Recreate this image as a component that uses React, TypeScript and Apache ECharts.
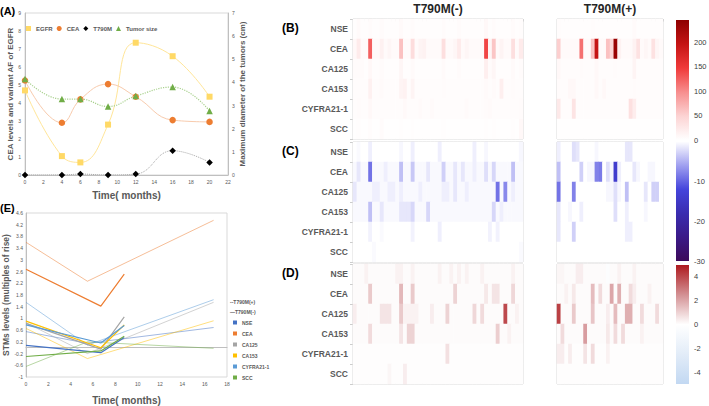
import React, { useEffect, useRef } from "react";
import * as echarts from "echarts";

const FONT = 'Arial, "Liberation Sans", Helvetica, sans-serif';
const GREY_TEXT = "#595959";

// ---------------- Panel A ----------------
const A_MONTHS = [0, 4, 6, 9, 12, 16, 20];
const A_EGFR = [4.7, 1.05, 0.7, 2.8, 7.35, 6.6, 4.35];
const A_CEA = [5.25, 2.9, 4.2, 5.05, 4.35, 3.05, 2.95];
const A_T790M = [0, 0, 0.05, 0, 0.05, 1.35, 0.7];
const A_TUMOR = [4.15, 3.28, 3.28, 2.96, 3.41, 3.8, 2.77];

// ---------------- Panel E ----------------
const E_MONTHS_NEG = [0, 6.7, 8.8];
const E_MONTHS_POS = [0, 5.5, 16.8];
const MARKERS = ["NSE", "CEA", "CA125", "CA153", "CYFRA21-1", "SCC"];
const MARKER_COLORS = ["#4472C4", "#ED7D31", "#A5A5A5", "#FFC000", "#5B9BD5", "#70AD47"];
const E_NSE_NEG = [0.08, -0.17, 0.35];
const E_CEA_NEG = [2.68, 1.42, 2.51];
const E_CA125_NEG = [0.83, -0.05, 1.05];
const E_CA153_NEG = [0.91, 0.0, 0.78];
const E_CYFRA_NEG = [0.78, 0.16, 0.76];
const E_SCC_NEG = [-0.3, -0.11, 0.39];
const E_NSE_POS = [0.55, 0.15, 0.69];
const E_CEA_POS = [3.6, 2.27, 4.35];
const E_CA125_POS = [0.85, -0.2, 1.55];
const E_CA153_POS = [0.66, -0.37, 0.92];
const E_CYFRA_POS = [1.55, 0.09, 1.64];
const E_SCC_POS = [-0.64, 0.2, -0.02];

// ---------------- Heatmap B (absolute change) ----------------
const B_NEG_NSE = [2,6,2,2,5,2,2,4,2,2, 2,2,6,2,2,5,2,2,2,2, 2,2,2,5,2,2,2,5,2,2, 2,2,2,2,8,2,4,2,2,2, 2,5,2,3];
const B_NEG_CEA = [8,22,6,6,125,6,6,16,6,10, 6,6,62,6,6,38,6,12,14,6, 6,6,6,36,6,6,10,22,6,10, 6,6,6,6,140,10,58,6,12,6, 6,36,6,22];
const B_NEG_CA125 = [4,4,4,2,8,2,2,4,2,2, 2,2,10,2,2,6,2,2,2,2, 2,2,2,6,2,2,2,4,2,2, 2,2,2,2,18,4,10,2,2,2, 2,6,2,4];
const B_NEG_CA153 = [3,3,3,3,16,3,3,6,3,3, 3,3,12,14,3,12,3,3,3,3, 3,3,3,4,3,3,3,3,3,3, 3,3,3,3,6,3,6,3,18,3, 3,4,3,3];
const B_NEG_CYFRA = [3,5,3,3,8,3,3,3,3,3, 3,3,3,7,3,3,3,6,3,3, 6,3,3,3,3,3,3,3,3,6, 3,3,3,3,5,6,3,3,3,3, 3,3,3,4];
const B_NEG_SCC = [1,2,1,1,3,1,1,4,1,1, 1,1,2,1,1,2,1,1,1,1, 1,1,1,2,1,1,1,1,1,1, 1,1,1,1,2,1,2,1,1,1, 1,2,1,8];
const B_POS_NSE = [3,2,2,2,2,2,2,2,2,3, 2,2,2,2,2,2,2,2,2,2, 6,2,2,2,2,2,2,2];
const B_POS_CEA = [52,6,6,6,6,6,115,6,6,60, 195,6,6,62,45,235,15,6,6,6, 14,32,6,10,6,32,10,6];
const B_POS_CA125 = [8,3,3,3,3,3,4,3,3,3, 8,3,3,3,3,5,3,3,3,3, 12,3,3,3,3,3,3,3];
const B_POS_CA153 = [4,3,3,8,8,3,3,3,3,3, 8,3,8,3,3,3,3,3,3,3, 4,3,3,3,3,3,3,3];
const B_POS_CYFRA = [25,3,3,3,30,3,3,3,3,3, 3,3,3,3,3,3,3,3,3,35, 20,3,3,3,3,3,3,3];
const B_POS_SCC = [1,1,1,1,1,1,1,1,1,1, 1,1,1,1,1,1,1,1,1,1, 1,1,1,1,1,1,1,1];

// ---------------- Heatmap C (decrease) ----------------
const C_NEG_NSE = [0,-0.3,0,0,-1,0,0,0,0,0, 0,0,-0.5,0,0,-1,0,0,0,0, 0,0,-1,0,0,0,0,0,0,0, 0,-1,0,0,-0.5,0,0,0,0,0, 0,0,0,-0.5];
const C_NEG_CEA = [-0.4,-1.5,-0.4,-0.4,-9,-0.4,-0.4,-0.4,-1,-0.4, -0.4,-0.4,-4,-0.4,-0.4,-3.5,-0.4,-0.4,-0.4,-1.5, -0.4,-0.4,-0.4,-3,-0.4,-0.4,-1.5,-0.4,-1.5,-0.4, -0.4,-1,-0.4,-0.4,-2,-0.4,-2.5,-0.4,-0.4,-0.4, -0.4,-4,-0.4,-0.4];
const C_NEG_CA125 = [-1.5,-0.4,-0.4,-0.4,-0.4,-1,-1,-0.4,-0.4,-1, -1,-0.4,-1,-0.4,-0.4,-0.4,-0.4,-1,-0.4,-0.4, -0.4,-0.4,-0.4,-1,-1,-0.4,-1.5,-0.4,-0.4,-1, -0.4,-0.4,-0.4,-0.4,-0.4,-0.4,-0.4,-9,-0.4,-7.5, -0.4,-1,-0.4,-0.4];
const C_NEG_CA153 = [-0.4,-0.4,-0.4,-0.4,-4,-0.4,-0.4,-1.5,-0.4,-0.4, -0.4,-0.4,-1.5,-1.5,-1.5,-2.5,-0.4,-0.4,-0.4,-2.5, -0.4,-0.4,-0.4,-0.4,-0.4,-0.4,-0.4,-0.4,-0.4,-0.4, -0.4,-0.4,-0.4,-0.4,-0.4,-0.4,-2.5,-0.4,-1,-0.4, -0.4,-0.4,-0.4,-0.4];
const C_NEG_CYFRA = [0,0,0,0,-0.8,0,0,-0.3,0,0, 0,0,0,0,0,-0.8,0,0,0,0, 0,0,-1,0,0,0,0,0,0,0, 0,0,0,0,0,-0.8,0,-0.8,0,0, 0,0,0,0];
const C_NEG_SCC = [0,0,0,0,0,-0.3,0,0,0,0, 0,0,0,0,0,0,0,0,0,0, 0,0,0,0,0,0,0,0,0,0, 0,0,0,0,0,0,0,0,0,0, 0,0,0,-0.3];
const C_POS_NSE = [-1,0,0,0,-2,-1.5,0,0,0,0, -0.5,0,0,0,0,0,0,0,-1.5,-1.5, 0,0,0,0,0,0,0,0];
const C_POS_CEA = [-4,0,0,0,0,0,-3,0,-0.5,-0.5, -8,-8.5,0,-2,-0.5,-14,-1,0,0,0, -1.5,-0.5,0,0,-0.5,-0.5,0,0];
const C_POS_CA125 = [-9,0,0,0,-8,0,0,0,0,0, 0,0,0,-0.5,-0.5,-2,-0.5,0,-4,0, 0,0,0,-1.5,0,-3,-3,0];
const C_POS_CA153 = [-1.5,0,0,-0.5,0,0,-1,0,0,0, 0,0,0,0,0,-2,0,0,-1,0, 0,0,0,-0.5,0,0,0,0];
const C_POS_CYFRA = [-1.5,0,0,0,-3,0,0,0,0,0, 0,0,0,0,0,0,0,0,-1,-1, 0,0,0,0,0,0,0,0];
const C_POS_SCC = [0,0,0,0,0,0,0,0,0,0, 0,0,0,0,0,0,0,0,0,0, 0,0,0,0,0,0,0,0];

// ---------------- Heatmap D (relative change) ----------------
const D_NEG_NSE = [0.1,0.1,0.1,0.3,0.1,0.1,0.1,0.1,0.1,0.1, 0.1,0.3,0.3,0.1,0.1,0.3,0.1,0.1,0.1,0.1, 0.1,0.1,0.3,0.1,0.1,0.3,0.1,0.3,0.1,0.3, 0.1,0.1,0.1,0.3,0.1,0.1,0.1,0.1,0.1,0.1, 0.1,0.3,0.1,0.1];
const D_NEG_CEA = [0.1,0.1,0.1,0.1,1.2,0.1,0.1,0.1,0.1,0.1, 0.1,0.1,1.6,0.1,0.1,1.2,0.1,0.1,0.1,0.1, 0.1,0.1,0.1,0.1,0.1,0.1,1.0,0.1,0.1,0.1, 0.1,0.1,0.1,0.1,0.5,0.1,0.6,0.6,0.1,0.1, 0.1,0.9,0.1,0.1];
const D_NEG_CA125 = [0.4,0.1,0.1,0.1,0.1,0.1,0.1,0.6,0.6,0.6, 0.1,0.1,1.2,0.3,0.3,0.3,0.3,0.1,0.1,0.1, 0.4,0.1,0.1,0.1,1.0,0.1,0.1,0.1,0.1,0.1, 0.1,0.9,0.1,0.8,0.1,0.1,0.1,0.1,0.1,4.0, 0.1,0.1,0.3,0.1];
const D_NEG_CA153 = [0.1,0.1,0.1,0.1,0.8,0.1,0.1,0.1,0.1,0.1, 0.1,0.1,0.6,0.1,1.0,1.0,0.1,0.1,0.1,0.1, 0.1,0.1,0.1,0.1,0.1,0.1,0.1,0.1,0.1,0.1, 0.1,0.1,0.1,0.1,0.1,0.1,0.1,1.1,0.1,0.1, 0.3,0.1,0.1,0.1];
const D_NEG_CYFRA = [0.05,0.05,0.05,0.05,0.05,0.05,0.05,0.05,0.05,0.05, 0.05,0.05,0.05,0.05,0.05,0.05,0.05,0.05,0.05,0.05, 0.05,0.05,0.05,0.05,0.7,0.05,0.05,0.05,0.05,0.05, 0.05,0.05,0.05,0.05,0.05,0.05,0.05,0.05,0.05,0.05, 0.05,0.05,0.05,0.05];
const D_NEG_SCC = [0.05,0.05,0.05,0.05,0.05,0.05,0.05,0.05,0.05,0.2, 0.05,0.05,0.05,0.4,0.05,0.05,0.05,0.05,0.05,0.05, 0.05,0.05,0.05,0.05,0.05,0.05,0.05,0.05,0.05,0.05, 0.05,0.05,0.05,0.05,0.05,0.05,0.05,0.05,0.05,0.05, 0.05,0.05,0.05,0.05];
const D_POS_NSE = [0.2,0.2,0.1,0.1,0.1,0.4,0.4,0.1,0.1,0.1, 0.1,0.1,0.1,-0.3,0.1,0.1,0.3,0.1,0.1,0.1, 0.3,0.1,0.1,0.1,0.1,0.1,0.1,0.1];
const D_POS_CEA = [0.1,0.1,0.3,0.1,0.5,0.1,0.1,0.1,0.1,1.5, 0.1,0.8,0.1,0.1,2.0,0.1,1.8,0.1,0.1,0.8, 0.4,0.1,0.1,0.1,0.3,0.1,0.1,0.1];
const D_POS_CA125 = [4.2,0.1,0.1,0.1,1.2,0.1,0.1,0.1,0.1,1.3, 0.1,0.1,0.1,0.4,0.1,1.5,0.1,0.1,1.8,1.8, 0.1,0.1,0.8,0.1,0.1,0.1,0.8,0.1];
const D_POS_CA153 = [0.1,0.8,0.1,0.1,0.1,0.1,0.1,2.2,0.1,0.1, 0.1,0.1,0.1,0.5,0.1,0.8,0.1,0.8,0.1,0.1, 0.1,0.1,0.3,0.1,0.1,0.1,0.1,0.1];
const D_POS_CYFRA = [0.4,0.4,0.05,0.4,0.05,0.05,0.05,0.6,0.05,0.8, 0.05,0.05,0.05,0.3,0.05,0.05,0.05,0.05,0.05,0.05, 0.05,0.05,0.05,0.05,0.05,0.05,0.05,0.05];
const D_POS_SCC = [0.05,0.05,0.05,0.05,0.05,0.05,0.05,0.05,0.05,0.05, 0.05,0.05,0.05,0.05,0.05,0.05,0.05,0.05,0.05,0.05, 0.05,0.05,0.05,0.05,0.05,0.05,0.05,0.05];

// colour scales (from min to max)
const B_COLORS = ["#FFFFFF", "#FCD3D3", "#F78E8E", "#F03A3A", "#C41414", "#8E0000"];
const B_RANGE = [0, 245];
const B_TICKS = [0, 50, 100, 150, 200];
const C_COLORS = ["#3D0A5A", "#3B1A88", "#3A2DB0", "#4545DC", "#A0A0F0", "#FFFFFF"];
const C_RANGE = [-30, 0];
const C_TICKS = [-10, -20, -30];
const D_COLORS = ["#C2D8F2", "#E2ECF8", "#FFFFFF", "#D39093", "#AE1A1F"];
const D_RANGE = [-5, 5];
const D_TICKS = [4, 2, 0, -2, -4];

function zip(xs: number[], ys: number[]) {
  return xs.map((x, i) => [x, ys[i]]);
}
function heatData(rows: number[][]) {
  const out: number[][] = [];
  rows.forEach((row, r) => row.forEach((v, c) => out.push([c, r, v])));
  return out;
}

function buildOption() {
  const NEG_COLS = B_NEG_CEA.map((_, i) => String(i + 1));
  const POS_COLS = B_POS_CEA.map((_, i) => String(i + 1));

  const heatPanels = [
    { top: 19, left: 353, width: 170, cols: NEG_COLS, rows: [B_NEG_NSE, B_NEG_CEA, B_NEG_CA125, B_NEG_CA153, B_NEG_CYFRA, B_NEG_SCC], labels: true, topTicks: true },
    { top: 19, left: 557, width: 106, cols: POS_COLS, rows: [B_POS_NSE, B_POS_CEA, B_POS_CA125, B_POS_CA153, B_POS_CYFRA, B_POS_SCC], labels: false, topTicks: true },
    { top: 142, left: 353, width: 170, cols: NEG_COLS, rows: [C_NEG_NSE, C_NEG_CEA, C_NEG_CA125, C_NEG_CA153, C_NEG_CYFRA, C_NEG_SCC], labels: true, topTicks: false },
    { top: 142, left: 557, width: 106, cols: POS_COLS, rows: [C_POS_NSE, C_POS_CEA, C_POS_CA125, C_POS_CA153, C_POS_CYFRA, C_POS_SCC], labels: false, topTicks: false },
    { top: 264, left: 353, width: 170, cols: NEG_COLS, rows: [D_NEG_NSE, D_NEG_CEA, D_NEG_CA125, D_NEG_CA153, D_NEG_CYFRA, D_NEG_SCC], labels: true, topTicks: false },
    { top: 264, left: 557, width: 106, cols: POS_COLS, rows: [D_POS_NSE, D_POS_CEA, D_POS_CA125, D_POS_CA153, D_POS_CYFRA, D_POS_SCC], labels: false, topTicks: false },
  ];

  const grid: any[] = [
    { left: 25, top: 13, width: 203, height: 162, show: true, borderColor: "#D9D9D9", borderWidth: 1, backgroundColor: "transparent" },
    { left: 26, top: 213, width: 201, height: 169, show: true, borderColor: "#D9D9D9", borderWidth: 1, backgroundColor: "transparent" },
    ...heatPanels.map((p) => ({ left: p.left, top: p.top, width: p.width, height: 120, show: true, borderColor: "#D0D0D0", borderWidth: 1, backgroundColor: "transparent" })),
  ];

  const tickLabel = { fontSize: 5, color: GREY_TEXT, fontFamily: FONT };
  const axisNameStyle = { fontSize: 8, fontWeight: "bold", color: GREY_TEXT, fontFamily: FONT };
  const axisLine = { show: true, lineStyle: { color: "#BFBFBF", width: 1 } };

  const xAxis: any[] = [
    { type: "value", gridIndex: 0, min: 0, max: 22, interval: 2, axisLine, axisTick: { show: false }, splitLine: { show: false }, axisLabel: { ...tickLabel, margin: 4 }, name: "Time( months)", nameLocation: "middle", nameGap: 15, nameTextStyle: { fontSize: 10, fontWeight: "bold", color: GREY_TEXT, fontFamily: FONT } },
    { type: "value", gridIndex: 1, min: 0, max: 18, interval: 2, axisLine, axisTick: { show: false }, splitLine: { show: false }, axisLabel: { ...tickLabel, margin: 4 }, name: "Time( months)", nameLocation: "middle", nameGap: 18, nameTextStyle: { fontSize: 10, fontWeight: "bold", color: GREY_TEXT, fontFamily: FONT } },
    ...heatPanels.map((p, k) => ({
      type: "category",
      gridIndex: 2 + k,
      data: p.cols,
      position: "top",
      axisLine: { show: false },
      axisLabel: { show: false, interval: 0 },
      axisTick: { show: p.topTicks, inside: true, length: 2.5, interval: 0, lineStyle: { color: "#BFBFBF", width: 0.8 } },
      splitLine: { show: false },
    })),
  ];

  const yAxis: any[] = [
    { type: "value", gridIndex: 0, min: 0, max: 9, interval: 1, axisLine, axisTick: { show: false }, splitLine: { show: false }, axisLabel: { ...tickLabel, margin: 4 }, name: "CEA levels and variant AF of EGFR", nameLocation: "middle", nameGap: 11, nameRotate: 90, nameTextStyle: axisNameStyle },
    { type: "value", gridIndex: 0, position: "right", min: 0, max: 7, interval: 1, axisLine, axisTick: { show: false }, splitLine: { show: false }, axisLabel: { ...tickLabel, margin: 4 }, name: "Maximum diameter of the tumors (cm)", nameLocation: "middle", nameGap: 8, nameRotate: 90, nameTextStyle: axisNameStyle },
    { type: "value", gridIndex: 1, min: -1, max: 4.6, interval: 0.4, axisLine, axisTick: { show: false }, splitLine: { show: false }, axisLabel: { ...tickLabel, margin: 3 }, name: "STMs levels (multiples of rise)", nameLocation: "middle", nameGap: 12, nameRotate: 90, nameTextStyle: { ...axisNameStyle, fontSize: 8.5 } },
    ...heatPanels.map((p, k) => ({
      type: "category",
      gridIndex: 2 + k,
      data: MARKERS,
      inverse: true,
      axisLine: { show: false },
      axisTick: { show: p.labels, length: 3, lineStyle: { color: "#BFBFBF", width: 0.8 } },
      axisLabel: { show: p.labels, fontSize: 8.5, fontWeight: "bold", color: GREY_TEXT, fontFamily: FONT, margin: 5 },
      splitLine: { show: false },
    })),
  ];

  const series: any[] = [
    { name: "EGFR", type: "line", xAxisIndex: 0, yAxisIndex: 0, smooth: 0.45, data: zip(A_MONTHS, A_EGFR), symbol: "rect", symbolSize: 6, itemStyle: { color: "#FFD966" }, lineStyle: { color: "#FFE699", width: 1 }, z: 3 },
    { name: "CEA", type: "line", xAxisIndex: 0, yAxisIndex: 0, smooth: 0.45, data: zip(A_MONTHS, A_CEA), symbol: "circle", symbolSize: 6.5, itemStyle: { color: "#ED7D31" }, lineStyle: { color: "#F8CBAD", width: 1 }, z: 4 },
    { name: "T790M", type: "line", xAxisIndex: 0, yAxisIndex: 0, smooth: 0.45, data: zip(A_MONTHS, A_T790M), symbol: "diamond", symbolSize: 6.5, itemStyle: { color: "#000000" }, lineStyle: { color: "#A6A6A6", width: 1, type: "dotted" }, z: 5 },
    { name: "Tumor size", type: "line", xAxisIndex: 0, yAxisIndex: 1, smooth: 0.45, data: zip(A_MONTHS, A_TUMOR), symbol: "triangle", symbolSize: 6.5, itemStyle: { color: "#70AD47" }, lineStyle: { color: "#A9D18E", width: 1.2, type: "dotted" }, z: 5 },
  ];

  const eNeg = [E_NSE_NEG, E_CEA_NEG, E_CA125_NEG, E_CA153_NEG, E_CYFRA_NEG, E_SCC_NEG];
  const ePos = [E_NSE_POS, E_CEA_POS, E_CA125_POS, E_CA153_POS, E_CYFRA_POS, E_SCC_POS];
  MARKERS.forEach((m, i) => {
    series.push({ name: m, type: "line", xAxisIndex: 1, yAxisIndex: 2, data: zip(E_MONTHS_NEG, eNeg[i]), symbol: "none", itemStyle: { color: MARKER_COLORS[i] }, lineStyle: { color: MARKER_COLORS[i], width: 1.2 }, z: 4 });
  });
  MARKERS.forEach((m, i) => {
    series.push({ name: m, type: "line", xAxisIndex: 1, yAxisIndex: 2, data: zip(E_MONTHS_POS, ePos[i]), symbol: "none", itemStyle: { color: MARKER_COLORS[i] }, lineStyle: { color: MARKER_COLORS[i], width: 1, opacity: 0.5 }, z: 3 });
  });

  const heatStart = series.length;
  heatPanels.forEach((p, k) => {
    series.push({ type: "heatmap", name: "heat" + k, xAxisIndex: 2 + k, yAxisIndex: 3 + k, data: heatData(p.rows), progressive: 0, itemStyle: { borderWidth: 0 }, emphasis: { disabled: true } });
  });

  const visualMap = [
    { type: "continuous", show: false, min: B_RANGE[0], max: B_RANGE[1], seriesIndex: [heatStart, heatStart + 1], inRange: { color: B_COLORS } },
    { type: "continuous", show: false, min: C_RANGE[0], max: C_RANGE[1], seriesIndex: [heatStart + 2, heatStart + 3], inRange: { color: C_COLORS } },
    { type: "continuous", show: false, min: D_RANGE[0], max: D_RANGE[1], seriesIndex: [heatStart + 4, heatStart + 5], inRange: { color: D_COLORS } },
  ];

  const legend = [
    {
      left: 26, top: 25.5, orient: "horizontal", itemWidth: 5, itemHeight: 5, itemGap: 4, padding: 0,
      textStyle: { fontSize: 6, fontWeight: "bold", color: GREY_TEXT, fontFamily: FONT },
      data: [
        { name: "EGFR", icon: "rect", itemStyle: { color: "#FFD966" } },
        { name: "CEA", icon: "circle", itemStyle: { color: "#ED7D31" } },
        { name: "T790M", icon: "diamond", itemStyle: { color: "#000000" } },
        { name: "Tumor size", icon: "triangle", itemStyle: { color: "#70AD47" } },
      ],
    },
    {
      left: 233, top: 319.5, orient: "vertical", itemWidth: 4, itemHeight: 4, itemGap: 5, padding: 0,
      textStyle: { fontSize: 5, fontWeight: "bold", color: GREY_TEXT, fontFamily: FONT, lineHeight: 6 },
      data: MARKERS.map((m, i) => ({ name: m, icon: "rect", itemStyle: { color: MARKER_COLORS[i] } })),
    },
  ];

  // colour bars
  const bar = (x: number, y0: number, y1: number, colors: string[]) => ({
    type: "rect",
    shape: { x, y: y0, width: 13, height: y1 - y0 },
    style: {
      fill: new echarts.graphic.LinearGradient(0, 0, 0, 1, colors.slice().reverse().map((c, i, arr) => ({ offset: i / (arr.length - 1), color: c }))),
    },
    silent: true,
  });
  const barLabel = (text: string, y: number) => ({
    type: "text", x: 694, y, silent: true,
    style: { text, fontSize: 7.5, fontFamily: FONT, fill: "#404040", textAlign: "left", textVerticalAlign: "middle" },
  });
  const B_Y0 = 20, B_Y1 = 140, C_Y0 = 141.5, C_Y1 = 261, D_Y0 = 265, D_Y1 = 384;
  const yOf = (v: number, range: number[], y0: number, y1: number) => y1 - ((v - range[0]) / (range[1] - range[0])) * (y1 - y0);

  const label = (text: string, x: number, y: number, size: number, align = "left", color = "#000") => ({
    type: "text", x, y, silent: true,
    style: { text, fontSize: size, fontWeight: "bold", fontFamily: FONT, fill: color, textAlign: align, textVerticalAlign: "middle" },
  });

  const graphic: any[] = [
    label("(A)", 0, 11, 11),
    label("(E)", 0, 208, 11),
    label("(B)", 282, 28, 12),
    label("(C)", 282, 151, 12),
    label("(D)", 282, 273, 12),
    label("T790M(-)", 438, 8.5, 12, "center", "#262626"),
    label("T790M(+)", 610, 8.5, 12, "center", "#262626"),
    label("--T790M(+)", 230, 301.7, 5, "left", GREY_TEXT),
    label("\u2014T790M(-)", 230, 311.7, 5, "left", GREY_TEXT),
    bar(676, B_Y0, B_Y1, B_COLORS),
    bar(676, C_Y0, C_Y1, C_COLORS),
    bar(676, D_Y0, D_Y1, D_COLORS),
    ...B_TICKS.map((t) => barLabel(String(t), yOf(t, B_RANGE, B_Y0, B_Y1))),
    ...C_TICKS.map((t) => barLabel(String(t), yOf(t, C_RANGE, C_Y0, C_Y1))),
    ...D_TICKS.map((t) => barLabel(String(t), yOf(t, D_RANGE, D_Y0, D_Y1))),
  ];

  return {
    animation: false,
    backgroundColor: "#FFFFFF",
    textStyle: { fontFamily: FONT },
    grid,
    xAxis,
    yAxis,
    series,
    visualMap,
    legend,
    graphic,
  };
}

export default function App() {
  const ref = useRef<HTMLDivElement>(null);
  useEffect(() => {
    const chart = echarts.init(ref.current as HTMLDivElement, undefined, { renderer: "svg" });
    chart.setOption(buildOption() as any);
    return () => chart.dispose();
  }, []);
  return (
    <div
      ref={ref}
      style={{ position: "fixed", left: 0, top: 0, width: 709, height: 406, background: "#fff" }}
    />
  );
}
